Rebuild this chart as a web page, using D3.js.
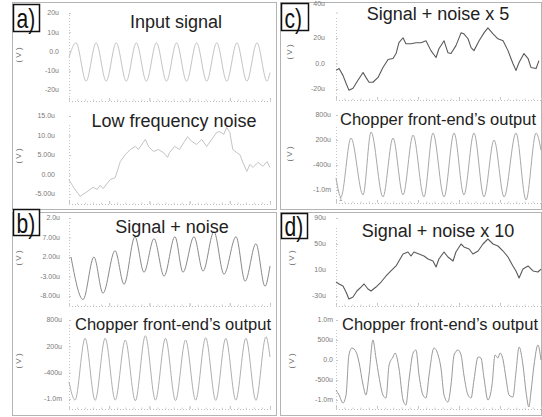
<!DOCTYPE html>
<html><head><meta charset="utf-8">
<script src="https://cdn.jsdelivr.net/npm/d3@7"></script>
<style>body{margin:0;background:#fff}svg{display:block}</style>
</head><body>
<svg id="c" width="542" height="417"></svg>
<script>
// ---------- data (time 0..100 across each plot, values in the axis units) ----------
const inputSignal=[[0,-3],[3.5,4.5],[8.5,-15.4],[13.5,4.5],[18.5,-15.4],[23.5,4.5],[28.5,-15.4],[33.5,4.5],[38.5,-15.4],[43.5,4.5],[48.5,-15.4],[53.5,4.5],[58.5,-15.4],[63.5,4.5],[68.5,-15.4],[73.5,4.5],[78.5,-15.4],[83.5,4.5],[88.5,-15.4],[93.5,4.5],[98.5,-15.4],[100,-11]];
const lowFreqNoise=[[0,-1.3],[2,-3.1],[5.5,-5.6],[9,-4.4],[12,-3.3],[14,-3.8],[15.5,-2.8],[17,-3.6],[20.5,-1.3],[23,-0.8],[25.5,3.3],[28,5.1],[30.5,6.4],[33,7.2],[34.5,6.4],[38,9.0],[39.5,7.2],[42,5.9],[44.5,6.4],[47,5.6],[49,4.4],[50,5.6],[52.5,7.2],[55,6.4],[57.5,8.5],[59,9.7],[61,8.5],[63.5,7.7],[66,9.0],[68.5,7.2],[71,9.0],[73.5,10.8],[75,11.0],[77,10.3],[78.5,12.1],[80,10.8],[81.5,6.4],[83.5,5.6],[85,5.1],[86.5,3.1],[88.5,0.8],[90,2.6],[91.5,1.8],[94,3.1],[96.5,2.1],[98.5,3.3],[100,1.8]];
const signalNoise=[[1,2.0],[7,-8.9],[12.4,2.0],[16.9,-7.3],[22.9,3.6],[27.4,-5.0],[32.8,7.2],[37.3,-1.9],[42.3,6.7],[47.3,-2.9],[52.7,7.2],[56.7,-1.9],[62.2,7.2],[66.7,-1.6],[72.1,8.5],[77.1,-2.4],[83.1,7.2],[87.6,-4.2],[93,5.4],[97.5,-5.5],[100,-0.3]];
const chopperOutB=[[0,-610],[3,-1025],[8,383],[13,-1030],[18,383],[23,-1025],[28,344],[33,-1040],[38,442],[43,-1025],[48,383],[53,-1035],[58,344],[63,-1025],[68,396],[73,-1030],[78,383],[83,-1025],[88,383],[93,-1030],[98,419],[100,-43]];
const signalNoise5=[[0,-5.4],[1.5,-3.9],[3.4,-9.3],[4.9,-15.5],[6.3,-20.9],[8.3,-19.4],[10.7,-13.2],[13.2,-7.0],[14.6,-10.9],[16.1,-14.7],[18,-14.7],[20.5,-10.9],[22.9,-3.1],[25.4,3.1],[27.8,3.9],[29.3,7.8],[30.7,16.3],[32.7,20.2],[34.1,15.5],[36.6,15.5],[39,16.3],[41.5,16.3],[43.9,17.8],[46.3,10.1],[48.8,4.7],[50.2,11.6],[52.7,17.8],[54.6,8.5],[56.1,7.8],[58.5,14.0],[61,24.0],[62.4,23.3],[64.4,19.4],[65.9,12.4],[67.3,10.1],[69.8,17.8],[72.2,24.0],[74.1,27.9],[76.6,23.3],[79,19.4],[81.5,17.8],[83.9,10.1],[86.3,0],[87.8,-5.4],[89.3,0.8],[91.7,7.8],[93.7,3.9],[95.1,-3.1],[97.6,-3.9],[99,2.3]];
const chopperOutC=[[0,-711],[2.4,-1167],[7.3,248],[13.2,-1119],[17.1,392],[22.9,-1167],[27.8,248],[32.7,-1119],[37.6,320],[42.9,-1167],[47.3,368],[52.7,-1167],[57.6,368],[62.4,-1119],[67.3,368],[72.2,-1167],[77.1,200],[82,-1167],[87.8,368],[92.7,-1239],[97.6,368],[100,-40]];
const signalNoise10=[[0,-8.5],[1.5,-11.5],[3.4,-14.6],[4.9,-23.8],[6.3,-34.6],[8.3,-31.5],[10.2,-22.3],[12.2,-16.2],[13.7,-11.5],[15.6,-19.2],[17.1,-22.3],[19.5,-16.2],[22,-8.5],[24.4,0.8],[26.8,8.5],[29.3,16.2],[30.7,23.8],[32.7,34.6],[35.1,37.7],[36.6,31.5],[38,37.7],[40.5,34.6],[42.9,31.5],[44.9,26.9],[47.3,23.8],[48.8,14.6],[50.2,26.9],[52.7,37.7],[54.6,30],[57.1,23.8],[58.5,37.7],[61,50],[62.4,45.4],[64.9,42.3],[66.8,34.6],[69.3,39.2],[71.7,50],[74.1,57.7],[76.6,50],[79,46.9],[81.5,39.2],[83.9,30],[86.3,16.2],[87.8,8.5],[89.3,-2.3],[91.2,11.5],[93.7,16.2],[96.1,8.5],[98.5,6.9],[100,11.5]];
const chopperOutD=[[0,-750],[1.5,-875],[3.4,-1075],[4.9,-875],[6.3,125],[7.8,300],[9.8,200],[11.2,-50],[13.2,-625],[14.6,-875],[16.1,-375],[18,500],[19.5,50],[21,-425],[22.9,-875],[24.4,-950],[25.9,-125],[27.8,75],[28.8,175],[30.7,-200],[32.7,-1000],[34.1,-1125],[35.6,-500],[37.6,175],[39,250],[40.5,-375],[42.4,-875],[43.9,-950],[45.4,-375],[47.8,300],[49.8,125],[51.2,-200],[52.7,-875],[54.6,-1050],[56.1,-625],[57.6,125],[59.5,250],[61,125],[62.4,-375],[64.4,-875],[65.9,-950],[67.3,-500],[69.3,75],[70.7,50],[72.2,-450],[74.1,-1000],[76.1,-625],[77.6,125],[79,50],[80,175],[81.5,0],[82.9,-450],[84.4,-875],[86.3,-925],[87.8,-300],[89.3,325],[91.2,-125],[92.7,-800],[94.1,-1175],[95.1,-800],[96.6,-125],[98.5,375],[100,0]];

// tick values and labels
const ticksA1=[20,10,0,-10,-20], labelsA1=["20u","10u","0.0","-10u","-20u"];
const ticksA2=[15,10,5,0,-5], labelsA2=["15.0u","10.0u","5.00u","0.00","-5.00u"];
const ticksB1=[12,7,2,-3,-8], labelsB1=["2.0u","7.00u","2.00u","-3.00u","-8.00u"];
const ticksB2=[800,200,-400,-1000], labelsB2=["800u","200u","-400u","-1.0m"];
const ticksC1=[40,20,0,-20], labelsC1=["40u","20u","0.0","-20u"];
const ticksC2=[800,200,-400,-1000], labelsC2=["800u","200u","-400u","-1.0m"];
const ticksD1=[90,50,10,-30], labelsD1=["90u","50u","10u","-30u"];
const ticksD2=[1000,500,0,-500,-1000], labelsD2=["1.0m","500u","0.0","-500u","-1.0m"];

const panelLabels=["a)","b)","c)","d)"];
const titles=["Input signal","Low frequency noise","Signal + noise","Chopper front-end\u2019s output","Signal + noise x 5","Chopper front-end\u2019s output","Signal + noise x 10","Chopper front-end\u2019s output"];
const unitLabel="( V )";

// ---------- layout ----------
const svg=d3.select("#c");
const FONT="'Liberation Sans', Arial, Helvetica, sans-serif";

const panels=[
 {x:12,y:2,w:264,h:207,bx:13.5,by:4.5,bw:26,bh:27,tb:28},
 {x:12,y:212,w:264,h:203,bx:13.5,by:209.5,bw:26,bh:26,tb:233},
 {x:280,y:2,w:261,h:207,bx:281.5,by:3.5,bw:27,bh:27,tb:28},
 {x:280,y:212,w:261,h:203,bx:281.5,by:213.5,bw:26,bh:25,tb:236}
];
panels.forEach(p=>{
  svg.append("rect").attr("x",p.x+0.5).attr("y",p.y+0.5).attr("width",p.w).attr("height",p.h)
    .attr("fill","none").attr("stroke","#b4b4b4").attr("stroke-width",1);
});

const plots=[
 {data:inputSignal,x0:69,x1:270,top:15,axY:101,dom:[-20,20],rng:[90,13],ticks:ticksA1,labels:labelsA1,lr:59,color:"#c4c4c4",w:1,curve:d3.curveMonotoneX,title:0,tx:176,ty:28,fs:18,vx:18,vy:55},
 {data:lowFreqNoise,x0:69,x1:270,top:125,axY:204,dom:[-5,15],rng:[194,116],ticks:ticksA2,labels:labelsA2,lr:55,color:"#c4c4c4",w:1,curve:d3.curveLinear,title:1,tx:174,ty:127,fs:18,vx:18,vy:156},
 {data:signalNoise,x0:69,x1:270,top:222,axY:306,dom:[-8,12],rng:[296,218],ticks:ticksB1,labels:labelsB1,lr:60,color:"#8a8a8a",w:1,curve:d3.curveMonotoneX,title:2,tx:172,ty:233,fs:18,vx:18,vy:258},
 {data:chopperOutB,x0:69,x1:270,top:325,axY:409,dom:[-1000,800],rng:[399,320],ticks:ticksB2,labels:labelsB2,lr:62,color:"#b0b0b0",w:1,curve:d3.curveMonotoneX,title:3,tx:173,ty:330,fs:16.5,vx:18,vy:361},
 {data:signalNoise5,x0:336,x1:541,top:18,axY:100,dom:[-20,20],rng:[89,38],ticks:ticksC1,labels:labelsC1,lr:325,color:"#5a5a5a",w:1.1,curve:d3.curveLinear,title:4,tx:438,ty:20,fs:18,vx:289,vy:52,labelTop:4},
 {data:chopperOutC,x0:336,x1:541,top:127,axY:203,dom:[-1000,800],rng:[190,115],ticks:ticksC2,labels:labelsC2,lr:331,color:"#a8a8a8",w:1,curve:d3.curveMonotoneX,title:5,tx:438,ty:125,fs:16.5,vx:289,vy:154},
 {data:signalNoise10,x0:336,x1:541,top:228,axY:306,dom:[-30,90],rng:[296,218],ticks:ticksD1,labels:labelsD1,lr:326,color:"#5a5a5a",w:1.1,curve:d3.curveLinear,title:6,tx:438,ty:237,fs:18,vx:291,vy:258},
 {data:chopperOutD,x0:336,x1:541,top:330,axY:409,dom:[-1000,1000],rng:[400,320],ticks:ticksD2,labels:labelsD2,lr:333,color:"#999",w:1,curve:d3.curveMonotoneX,title:7,tx:440,ty:330,fs:16.5,vx:291,vy:361}
];

plots.forEach(p=>{
  const x=d3.scaleLinear().domain([0,100]).range([p.x0,p.x1]);
  const y=d3.scaleLinear().domain(p.dom).range(p.rng);
  const g=svg.append("g");

  // x axis (dotted)
  const xa=g.append("g").attr("transform",`translate(0,${p.axY})`)
    .call(d3.axisBottom(x).tickValues([0,20,40,60,80,100]).tickSize(-3).tickFormat(""));
  xa.select(".domain").attr("stroke","#bdbdbd").attr("stroke-dasharray","1,2");
  xa.selectAll(".tick line").attr("stroke","#bdbdbd");
  const xm=g.append("g").attr("transform",`translate(0,${p.axY})`)
    .call(d3.axisBottom(x).tickValues(d3.range(0,101,4)).tickSize(-1.5).tickFormat(""));
  xm.select(".domain").remove();
  xm.selectAll(".tick line").attr("stroke","#d0d0d0");

  // y axis (dotted, tick labels)
  g.append("line").attr("x1",p.x0+0.5).attr("x2",p.x0+0.5).attr("y1",p.top).attr("y2",p.axY)
    .attr("stroke","#c8c8c8").attr("stroke-dasharray","1,2");
  const ya=g.append("g").attr("transform",`translate(${p.x0},0)`)
    .call(d3.axisLeft(y).tickValues(p.ticks).tickSize(-2).tickPadding(0).tickFormat(""));
  ya.select(".domain").remove();
  ya.selectAll(".tick line").attr("stroke","#c8c8c8");
  g.selectAll("text.tl").data(p.ticks).join("text").attr("class","tl")
    .attr("x",p.lr)
    .attr("y",(d,i)=> (i===0 && p.labelTop!==undefined) ? p.labelTop : y(d))
    .attr("dy","0.35em")
    .attr("text-anchor","end").attr("font-family",FONT).attr("font-size",7)
    .attr("fill","#7a7a7a").text((d,i)=>p.labels[i]);

  // unit label
  g.append("text").attr("transform",`translate(${p.vx},${p.vy}) rotate(-90)`)
    .attr("text-anchor","middle").attr("dy","0.35em").attr("font-family",FONT)
    .attr("font-size",8).attr("fill","#666").text(unitLabel);

  // trace
  const line=d3.line().x(d=>x(d[0])).y(d=>y(d[1])).curve(p.curve);
  g.append("path").datum(p.data).attr("d",line).attr("fill","none")
    .attr("stroke",p.color).attr("stroke-width",p.w).attr("stroke-linejoin","round");

  // title
  g.append("text").attr("x",p.tx).attr("y",p.ty).attr("text-anchor","middle")
    .attr("font-family",FONT).attr("font-size",p.fs).attr("fill","#222").text(titles[p.title]);
});

// stray axis digit below "-1.0m" in panel c
svg.append("text").attr("x",339).attr("y",201).attr("font-family",FONT).attr("font-size",6)
  .attr("fill","#808080").text("1");

// panel letter boxes
panels.forEach((p,i)=>{
  svg.append("rect").attr("x",p.bx).attr("y",p.by).attr("width",p.bw).attr("height",p.bh)
    .attr("fill","#fff").attr("stroke","#111").attr("stroke-width",1.5);
  svg.append("text").attr("transform",`translate(${p.bx+3},${p.tb}) scale(0.78,1)`)
    .attr("font-family",FONT).attr("font-size",27).attr("fill","#111").text(panelLabels[i]);
});
</script>
</body></html>
